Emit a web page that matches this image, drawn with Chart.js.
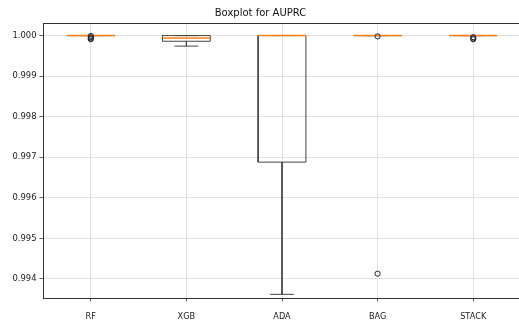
<!DOCTYPE html>
<html>
<head>
<meta charset="utf-8">
<script src="https://cdn.jsdelivr.net/npm/chart.js@4.4.1/dist/chart.umd.min.js"></script>
<style>
  html, body { margin: 0; padding: 0; overflow: hidden; background: #fff; width: 519px; height: 322px; }
  #wrap { width: 519px; height: 322px; overflow: hidden; position: relative; }
  canvas { display: block; position: absolute; left: 0; top: 0; }
</style>
</head>
<body>
<div id="wrap"><canvas id="chart" width="521" height="322" style="width:521px;height:322px"></canvas></div>
<script>
// Box statistics per model (AUPRC)
const models      = ['RF', 'XGB', 'ADA', 'BAG', 'STACK'];
const q1          = [1.00000, 0.99986, 0.99688, 1.00000, 1.00000];
const medians     = [1.00000, 0.99994, 1.00000, 1.00000, 1.00000];
const q3          = [1.00000, 1.00000, 1.00000, 1.00000, 1.00000];
const whiskerLow  = [1.00000, 0.99974, 0.99362, 1.00000, 1.00000];
const whiskerHigh = [1.00000, 1.00000, 1.00000, 1.00000, 1.00000];
const outliers = [
  [0.99999, 0.99996, 0.99993, 0.99991],
  [],
  [],
  [0.99998, 0.99413],
  [0.99996, 0.99993, 0.99991]
];
const yTicks = [0.994, 0.995, 0.996, 0.997, 0.998, 0.999, 1.000];
const yMin = 0.99353;
const yMax = 1.00031;
const xMin = 0.5;
const xMax = 5.5;

const BOX_HALF = 0.25;   // half box width in x units
const CAP_HALF = 0.125;  // half whisker-cap width

// Build polyline segments; a null y breaks the line between segments
const gap = (x) => ({ x: x, y: null });
const boxPts = [], whiskerPts = [], medianPts = [], flierPts = [];
models.forEach((m, i) => {
  const x = i + 1;
  boxPts.push(
    { x: x - BOX_HALF, y: q1[i] }, { x: x + BOX_HALF, y: q1[i] },
    { x: x + BOX_HALF, y: q3[i] }, { x: x - BOX_HALF, y: q3[i] },
    { x: x - BOX_HALF, y: q1[i] }, gap(x)
  );
  whiskerPts.push(
    { x: x, y: q1[i] }, { x: x, y: whiskerLow[i] }, gap(x),
    { x: x - CAP_HALF, y: whiskerLow[i] }, { x: x + CAP_HALF, y: whiskerLow[i] }, gap(x),
    { x: x, y: q3[i] }, { x: x, y: whiskerHigh[i] }, gap(x),
    { x: x - CAP_HALF, y: whiskerHigh[i] }, { x: x + CAP_HALF, y: whiskerHigh[i] }, gap(x)
  );
  medianPts.push({ x: x - BOX_HALF, y: medians[i] }, { x: x + BOX_HALF, y: medians[i] }, gap(x));
  outliers[i].forEach(v => flierPts.push({ x: x, y: v }));
});

const FONT = 'DejaVu Sans';
const lineDs = (data, color, width) => ({
  type: 'line', data, borderColor: color, borderWidth: width,
  pointRadius: 0, pointHoverRadius: 0, spanGaps: false, tension: 0, fill: false
});

// Top spine of the axes frame
const framePlugin = {
  id: 'frame',
  afterDraw(chart) {
    const { ctx, chartArea: a } = chart;
    ctx.save();
    ctx.strokeStyle = '#333';
    ctx.lineWidth = 1;
    ctx.beginPath();
    ctx.moveTo(a.left, a.top + 0.5);
    ctx.lineTo(a.right, a.top + 0.5);
    ctx.stroke();
    ctx.restore();
  }
};

new Chart(document.getElementById('chart'), {
  type: 'scatter',
  data: {
    datasets: [
      {
        type: 'scatter', data: flierPts, pointStyle: 'circle', pointRadius: 2.6,
        pointHoverRadius: 2.6, borderColor: '#222', backgroundColor: 'rgba(0,0,0,0)', borderWidth: 1
      },
      lineDs(medianPts, '#ff7f0e', 1.4),
      lineDs(boxPts, '#444', 1),
      lineDs(whiskerPts, '#444', 1)
    ]
  },
  options: {
    responsive: false,
    devicePixelRatio: 1,
    animation: false,
    events: [],
    layout: { padding: 0, autoPadding: false },
    plugins: {
      legend: { display: false },
      tooltip: { enabled: false },
      title: {
        display: true,
        text: 'Boxplot for AUPRC',
        color: '#111',
        font: { family: FONT, size: 10, weight: 'normal' },
        padding: { top: 7, bottom: 4 }
      }
    },
    scales: {
      x: {
        type: 'linear',
        min: xMin, max: xMax,
        afterBuildTicks: (s) => { s.ticks = models.map((m, i) => ({ value: i + 1 })); },
        afterFit: (s) => { s.height = 24; s.paddingLeft = 0; s.paddingRight = 0; },
        ticks: {
          callback: (v) => models[Math.round(v) - 1] || '',
          color: '#222',
          font: { family: FONT, size: 8.2 },
          padding: 10,
          maxRotation: 0
        },
        grid: { color: '#dadada', lineWidth: 0.8, tickLength: 3.5, tickColor: '#333' },
        border: { color: '#333', width: 1 }
      },
      y: {
        type: 'linear',
        min: yMin, max: yMax,
        afterBuildTicks: (s) => { s.ticks = yTicks.map(v => ({ value: v })); },
        afterFit: (s) => { s.width = 43; },
        ticks: {
          callback: (v) => Number(v).toFixed(3),
          color: '#222',
          font: { family: FONT, size: 8.4 },
          padding: 3
        },
        grid: { color: '#dadada', lineWidth: 0.8, tickLength: 3.5, tickColor: '#333' },
        border: { color: '#333', width: 1 }
      }
    }
  },
  plugins: [framePlugin]
});
</script>
</body>
</html>
